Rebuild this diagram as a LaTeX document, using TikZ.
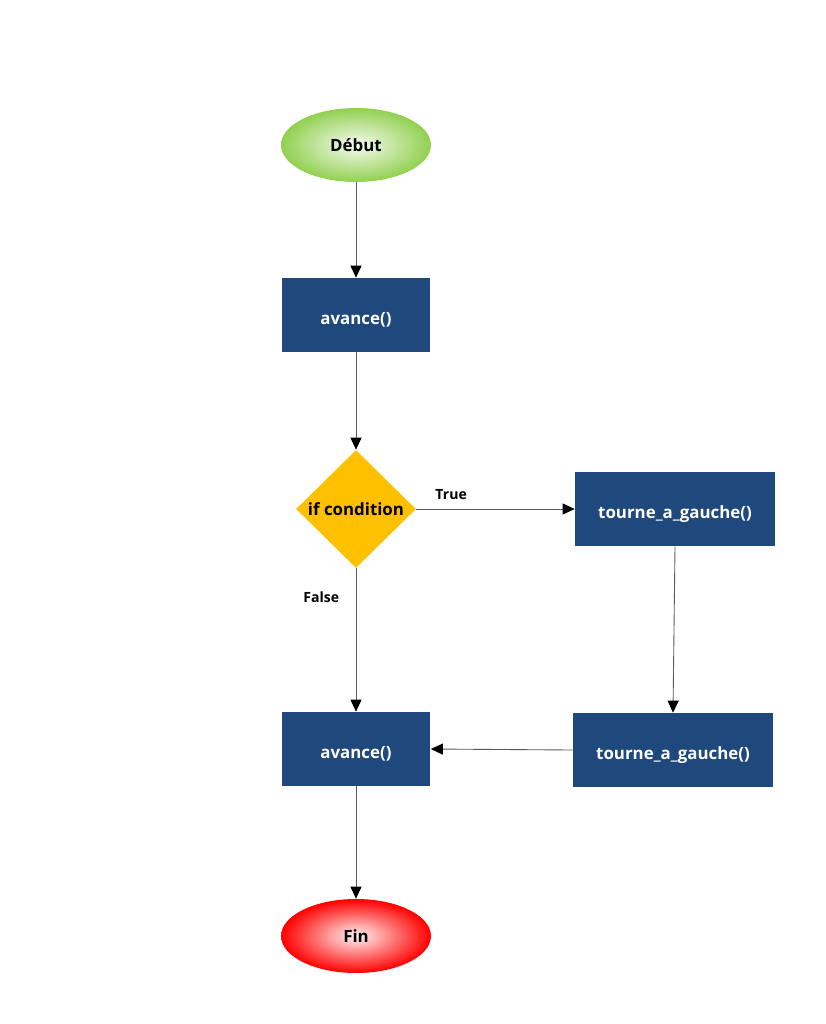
\documentclass[tikz,border=0pt]{standalone}
\usepackage{fontspec}
\setmainfont{Open Sans}
\usetikzlibrary{arrows.meta,shapes.geometric}
\definecolor{fcGreen}{RGB}{146,208,80}
\definecolor{fcRed}{RGB}{255,0,0}
\definecolor{fcBlue}{RGB}{31,73,125}
\definecolor{fcYellow}{RGB}{255,192,0}
\definecolor{fcLine}{RGB}{90,90,90}
\tikzset{
    base/.style={font=\fontsize{9.6}{11}\selectfont\bfseries, align=center,
                 text height=0.95em, text depth=0.2em},
    terminal/.style={base, ellipse, minimum width=3cm, minimum height=1.48cm,
                     inner sep=0pt, shading=radial, text=black},
    action/.style={base, rectangle, fill=fcBlue, text=white,
                   minimum height=1.48cm, inner sep=0pt,
                   text height=1.25em, text depth=0.15em},
    decision/.style={base, diamond, fill=fcYellow, text=black, inner sep=0pt,
                     minimum width=2.4cm, minimum height=2.36cm},
    flow/.style={-{Triangle[length=2.4mm, width=2.2mm, color=black]}, color=fcLine, line width=0.5pt},
    label/.style={font=\fontsize{8}{9}\selectfont\bfseries, text=black}
}
\begin{document}
\begin{tikzpicture}[x=0.02cm, y=-0.02cm]
  \useasboundingbox (0,0) rectangle (825,1024);
  \node[terminal, inner color=fcGreen!8!white, outer color=fcGreen] (debut) at (356,145) {Début};
  \node[action, minimum width=2.98cm] (avance1) at (356,315) {avance()};
  \node[decision] (cond) at (356,509) {if condition};
  \node[action, minimum width=4cm] (tourne1) at (675,509) {tourne\_a\_gauche()};
  \node[action, minimum width=2.98cm] (avance2) at (356,749) {avance()};
  \node[action, minimum width=4cm] (tourne2) at (673,750) {tourne\_a\_gauche()};
  \node[terminal, inner color=fcRed!5!white, outer color=fcRed] (fin) at (356,936) {Fin};

  \draw[flow] (debut) -- (avance1);
  \draw[flow] (avance1) -- (cond);
  \draw[flow] (cond.east) -- node[label, pos=0.22, above=2pt] {True} (tourne1.west);
  \draw[flow] (cond.south) -- node[label, pos=0.2, left=6pt] {False} (avance2.north);
  \draw[flow] (tourne1.south) -- (tourne2.north);
  \draw[flow] (tourne2.west) -- (avance2.east);
  \draw[flow] (avance2) -- (fin);
\end{tikzpicture}
\end{document}
